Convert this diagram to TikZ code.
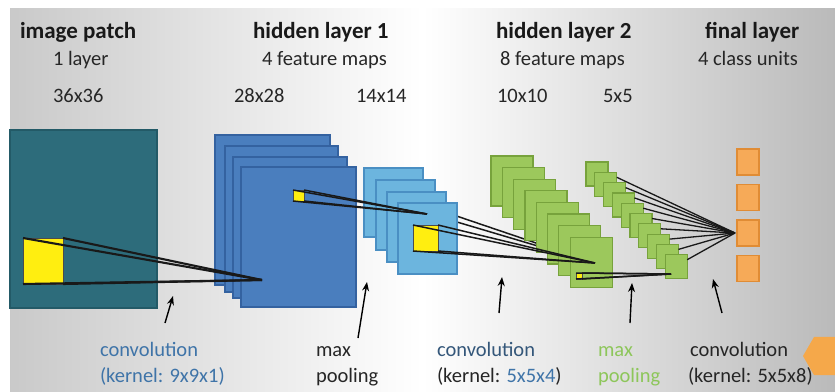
\documentclass[tikz,border=0pt]{standalone}
\usepackage{fontspec}
\setmainfont{Carlito}
\usetikzlibrary{arrows.meta}
\definecolor{tealfill}{HTML}{2D6C7B}
\definecolor{tealedge}{HTML}{235A67}
\definecolor{bluefill}{HTML}{4A7EBE}
\definecolor{blueedge}{HTML}{3462A0}
\definecolor{lbfill}{HTML}{6CB5DE}
\definecolor{lbedge}{HTML}{4A8FC3}
\definecolor{gfill}{HTML}{9CC85C}
\definecolor{gedge}{HTML}{77A23C}
\definecolor{ofill}{HTML}{F6AA58}
\definecolor{oedge}{HTML}{E08C35}
\definecolor{yfill}{HTML}{FFEE10}
\definecolor{convblue}{HTML}{3F74A8}
\definecolor{convdark}{HTML}{34577A}
\definecolor{txtdark}{HTML}{262626}
\definecolor{poolgreen}{HTML}{8DC65A}
\definecolor{hexorange}{HTML}{F5A84A}
\newcommand\mytitlefont{\fontsize{23}{27}\selectfont\bfseries}
\newcommand\mylabelfont{\fontsize{20.5}{24}\selectfont}
\begin{document}
\begin{tikzpicture}[x=1pt,y=-1pt,
  box/.style={draw, line width=1.2pt, inner sep=0pt, outer sep=0pt, anchor=north west},
  tealbox/.style={box, fill=tealfill, draw=tealedge},
  bluebox/.style={box, fill=bluefill, draw=blueedge},
  lbbox/.style={box, fill=lbfill, draw=lbedge},
  gbox/.style={box, fill=gfill, draw=gedge},
  obox/.style={box, fill=ofill, draw=oedge},
  ybox/.style={box, fill=yfill, draw=black!70, line width=0.8pt},
  kern/.style={draw=black!90, line width=2.1pt},
  thin kern/.style={draw=black!90, line width=1.5pt},
  ptr/.style={draw=black, line width=1.4pt, -{Stealth[length=9pt,width=7pt]}},
  txt/.style={inner sep=0pt, outer sep=0pt, anchor=base west}]
\useasboundingbox (0,0) rectangle (835,391);
\fill[white] (0,0) rectangle (835,391);
\shade[left color=black!21, right color=black!27, middle color=white] (10,8) rectangle (835,391);

% image patch
\node[tealbox, minimum width=147pt, minimum height=178pt] (img) at (10,130) {};
\node[ybox, minimum width=40pt, minimum height=46pt] (p1) at (23,238) {};

% hidden layer 1 : 28x28 maps
\node[bluebox, minimum width=115pt, minimum height=150pt] (b1) at (215,135) {};
\node[bluebox, minimum width=113pt, minimum height=146pt] (b2) at (225,146) {};
\node[bluebox, minimum width=114pt, minimum height=141pt] (b3) at (233,157) {};
\node[bluebox, minimum width=115pt, minimum height=140pt] (b4) at (241,167) {};
\node[ybox, minimum width=11pt, minimum height=11pt] (p2) at (293,190) {};
\coordinate (c1) at (262,280);

% hidden layer 1 : 14x14 maps
\node[lbbox, minimum width=59pt, minimum height=69pt] (l1) at (364,168) {};
\node[lbbox, minimum width=59pt, minimum height=70pt] (l2) at (376,180) {};
\node[lbbox, minimum width=59pt, minimum height=70pt] (l3) at (387,192) {};
\coordinate (h1) at (430,207);
\coordinate (h2) at (430,214);
\coordinate (c3) at (595,263);
\draw[thin kern] (h1) -- (c3);
\draw[thin kern] (h2) -- (c3);
\node[lbbox, minimum width=59pt, minimum height=71pt] (l4) at (398,203) {};
\node[ybox, minimum width=25pt, minimum height=26pt] (p3) at (413,225) {};
\coordinate (c2) at (427,214);

% kernels 1 and 2
\draw[kern] (p1.north west) -- (c1);
\draw[kern] (p1.north east) -- (c1);
\draw[kern] (p1.south west) -- (c1);
\draw[kern] (p1.south east) -- (c1);
\draw[thin kern] (p2.north west) -- (c2);
\draw[thin kern] (p2.north east) -- (c2);
\draw[thin kern] (p2.south west) -- (c2);
\draw[thin kern] (p2.south east) -- (c2);

% hidden layer 2 : 10x10 maps
\foreach \k in {0,...,7} {
  \node[gbox, minimum width=42pt, minimum height=50pt] (g\k) at ({491+11.3*\k},{156+11.6*\k}) {};
}
\node[ybox, line width=0.5pt, minimum width=6pt, minimum height=6pt] (p4) at (576,273) {};

\draw[thin kern] (p3.north west) -- (c3);
\draw[thin kern] (p3.north east) -- (c3);
\draw[thin kern] (p3.south west) -- (c3);
\draw[thin kern] (p3.south east) -- (c3);

% hidden layer 2 : 5x5 maps
\foreach \k in {0,...,9} {
  \node[gbox, minimum width=22pt, minimum height=24pt] (s\k) at ({586+8.8*\k},{162+10.3*\k}) {};
}
\coordinate (c5) at (735,233);
\foreach \k in {1,...,9} {
  \draw[line width=1.3pt, black!90] ([yshift=-5pt]s\k.north east) -- (c5);
}
\coordinate (c4) at (671,274);
\draw[thin kern] (p4.north west) -- (c4);
\draw[thin kern] (p4.north east) -- (c4);
\draw[thin kern] (p4.south west) -- (c4);
\draw[thin kern] (p4.south east) -- (c4);

% final layer
\foreach \k in {0,...,3} {
  \node[obox, minimum width=22pt, minimum height=26pt] (o\k) at (737,{149+35.5*\k}) {};
}

% arrows
\coordinate (a1s) at (165,323); \coordinate (a1e) at (173,296);
\coordinate (a2s) at (358,338); \coordinate (a2e) at (367,282);
\coordinate (a3s) at (499,313); \coordinate (a3e) at (502,277);
\coordinate (a4s) at (630,323); \coordinate (a4e) at (632,283);
\coordinate (a5s) at (722,313); \coordinate (a5e) at (713,279);
\draw[ptr] (a1s) -- (a1e);
\draw[ptr] (a2s) -- (a2e);
\draw[ptr] (a3s) -- (a3e);
\draw[ptr] (a4s) -- (a4e);
\draw[ptr] (a5s) -- (a5e);

% decoration hexagon
\fill[hexorange] (825,356) +(0:22) -- +(60:22) -- +(120:22) -- +(180:22) -- +(240:22) -- +(300:22) -- cycle;

% titles
\node[txt, text=black!90] (t1) at (20,38) {\mytitlefont image patch};
\node[txt, text=black!90] (t2) at (253,38) {\mytitlefont hidden layer 1};
\node[txt, text=black!90] (t3) at (496,38) {\mytitlefont hidden layer 2};
\node[txt, text=black!90] (t4) at (705,38) {\mytitlefont final layer};
\node[txt, text=txtdark] (s1) at (53,65) {\mylabelfont 1 layer};
\node[txt, text=txtdark] (s2) at (262,65) {\mylabelfont 4 feature maps};
\node[txt, text=txtdark] (s3) at (500,65) {\mylabelfont 8 feature maps};
\node[txt, text=txtdark] (s4) at (698,65) {\mylabelfont 4 class units};
\node[txt, text=txtdark] (d1) at (53,102) {\mylabelfont 36x36};
\node[txt, text=txtdark] (d2) at (234,102) {\mylabelfont 28x28};
\node[txt, text=txtdark] (d3) at (356,102) {\mylabelfont 14x14};
\node[txt, text=txtdark] (d4) at (497,102) {\mylabelfont 10x10};
\node[txt, text=txtdark] (d5) at (603,102) {\mylabelfont 5x5};

% bottom labels
\node[txt, text=convblue] (b1a) at (100,356) {\mylabelfont convolution};
\node[txt, text=convblue] (b1b) at (100,382) {\mylabelfont (kernel: 9x9x1)};
\node[txt, text=txtdark] (b2a) at (316,356) {\mylabelfont max};
\node[txt, text=txtdark] (b2b) at (316,382) {\mylabelfont pooling};
\node[txt, text=convdark] (b3a) at (437,356) {\mylabelfont convolution};
\node[txt, text=txtdark] (b3b) at (437,382) {\mylabelfont (kernel: \textcolor{convblue}{5x5x4})};
\node[txt, text=poolgreen] (b4a) at (598,356) {\mylabelfont max};
\node[txt, text=poolgreen] (b4b) at (598,382) {\mylabelfont pooling};
\node[txt, text=txtdark] (b5a) at (690,356) {\mylabelfont convolution};
\node[txt, text=txtdark] (b5b) at (688,382) {\mylabelfont (kernel: 5x5x8)};
\end{tikzpicture}
\end{document}
